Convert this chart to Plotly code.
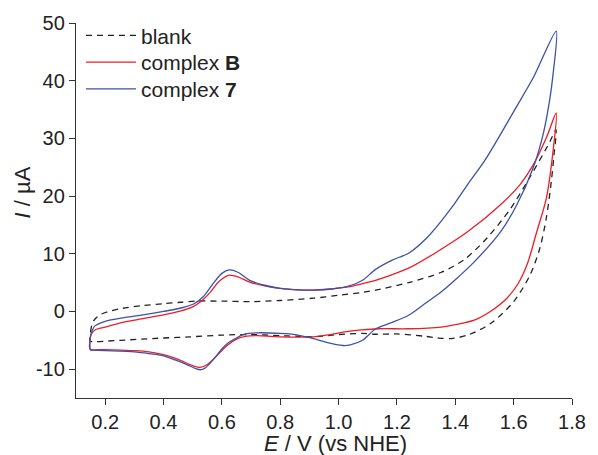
import plotly.graph_objects as go

# ---- data (E in V vs NHE, I in uA) ----
blank_E = [0.148, 0.150, 0.155, 0.165, 0.185, 0.211, 0.260, 0.324, 0.400, 0.460, 0.515, 0.600, 0.695, 0.800,
           0.914, 1.000, 1.082, 1.127, 1.240, 1.352, 1.431, 1.510, 1.589, 1.656, 1.723, 1.745,
           1.738, 1.729, 1.712, 1.690, 1.656, 1.600, 1.521, 1.442, 1.386, 1.340, 1.296, 1.200, 1.127,
           1.082, 1.000, 0.914, 0.858, 0.800, 0.700, 0.600, 0.490, 0.400, 0.324, 0.250, 0.150, 0.148]
blank_I = [-5.1, -3.5, -2.2, -1.3, -0.5, 0.0, 0.55, 1.0, 1.35, 1.6, 1.8, 1.8, 1.7, 1.9,
           2.3, 2.8, 3.3, 3.7, 5.0, 6.8, 9.0, 12.8, 17.8, 23.3, 29.3, 31.5,
           27.0, 22.5, 16.2, 11.0, 6.3, 1.7, -2.1, -4.1, -4.7, -4.6, -4.3, -3.9, -3.95,
           -3.8, -4.0, -4.4, -4.3, -4.2, -4.0, -4.1, -4.4, -4.6, -4.8, -5.0, -5.2, -5.1]

b_E = [0.148, 0.148, 0.152, 0.165, 0.200, 0.260, 0.324, 0.400, 0.460, 0.500, 0.530, 0.560, 0.590, 0.625,
       0.655, 0.695, 0.750, 0.800, 0.860, 0.914, 0.970, 1.027, 1.080, 1.127, 1.184, 1.240, 1.330,
       1.442, 1.555, 1.622, 1.667, 1.712, 1.746,
       1.735, 1.712, 1.678, 1.648, 1.615, 1.577, 1.520, 1.465, 1.400, 1.352, 1.240, 1.139, 1.080,
       1.027, 0.970, 0.914, 0.860, 0.801, 0.720, 0.680, 0.650, 0.620, 0.580, 0.550, 0.525, 0.500,
       0.450, 0.400, 0.350, 0.300, 0.200, 0.148]
b_I = [-6.5, -5.0, -4.0, -3.2, -2.7, -1.9, -1.3, -0.6, 0.1, 0.8, 1.8, 3.3, 5.2, 6.3,
       6.0, 5.1, 4.4, 4.0, 3.75, 3.7, 3.9, 4.2, 4.8, 5.4, 6.4, 7.5, 10.1,
       13.8, 18.5, 22.0, 25.4, 30.1, 34.4,
       27.8, 19.6, 13.6, 8.4, 4.8, 2.3, 0.0, -1.5, -2.3, -2.7, -3.0, -3.0, -3.2,
       -3.5, -4.0, -4.4, -4.45, -4.4, -4.2, -4.3, -4.8, -5.8, -7.8, -9.2, -9.7, -9.4,
       -8.3, -7.5, -7.0, -6.8, -6.6, -6.5]

c7_E = [0.148, 0.148, 0.152, 0.165, 0.200, 0.260, 0.324, 0.400, 0.460, 0.503, 0.535, 0.571, 0.600, 0.625,
        0.655, 0.695, 0.750, 0.800, 0.860, 0.914, 0.970, 1.027, 1.082, 1.127, 1.184, 1.240, 1.307,
        1.386, 1.442, 1.499, 1.555, 1.611, 1.667, 1.746,
        1.735, 1.723, 1.701, 1.667, 1.611, 1.555, 1.465, 1.400, 1.352, 1.300, 1.240, 1.184, 1.127,
        1.082, 1.040, 1.015, 0.970, 0.914, 0.850, 0.800, 0.720, 0.680, 0.650, 0.620, 0.600, 0.570,
        0.545, 0.529, 0.510, 0.480, 0.440, 0.400, 0.350, 0.300, 0.200, 0.148]
c7_I = [-6.6, -5.0, -3.8, -2.5, -1.7, -1.1, -0.65, 0.0, 0.6, 1.3, 2.5, 4.9, 6.6, 7.2,
        6.8, 5.4, 4.5, 4.0, 3.75, 3.7, 3.85, 4.3, 5.4, 7.3, 8.9, 10.1, 13.0,
        17.9, 22.0, 26.0, 30.7, 35.6, 40.5, 48.6,
        41.1, 36.5, 30.7, 24.9, 18.5, 13.8, 8.6, 5.5, 3.4, 1.5, -0.65, -1.9, -3.0,
        -5.0, -5.8, -5.9, -5.5, -4.7, -4.0, -3.8, -3.7, -3.9, -4.6, -5.5, -6.5, -8.4,
        -9.7, -10.1, -9.9, -9.2, -8.4, -7.7, -7.3, -7.0, -6.8, -6.7]

series_names = ["blank", "complex <b>B</b>", "complex <b>7</b>"]
x_ticks = [0.2, 0.4, 0.6, 0.8, 1.0, 1.2, 1.4, 1.6, 1.8]
x_tick_text = ["0.2", "0.4", "0.6", "0.8", "1.0", "1.2", "1.4", "1.6", "1.8"]
y_ticks = [-10, 0, 10, 20, 30, 40, 50]
y_tick_text = ["-10", "0", "10", "20", "30", "40", "50"]

FONT = "Liberation Sans, Arial, sans-serif"

fig = go.Figure()
fig.add_trace(go.Scatter(x=blank_E, y=blank_I, mode="lines", name=series_names[0], legend="legend",
                         line=dict(color="#222222", width=1.3, dash="6px,5px", shape="spline", smoothing=0.8)))
fig.add_trace(go.Scatter(x=b_E, y=b_I, mode="lines", name=series_names[1], legend="legend2",
                         line=dict(color="#ee1c25", width=1.3, shape="spline", smoothing=0.8)))
fig.add_trace(go.Scatter(x=c7_E, y=c7_I, mode="lines", name=series_names[2], legend="legend3",
                         line=dict(color="#3a53a4", width=1.3, shape="spline", smoothing=0.8)))

axis_common = dict(showline=True, linecolor="#333333", linewidth=1.3, showgrid=False, zeroline=False,
                   ticks="outside", ticklen=6, tickwidth=1.3, tickcolor="#333333",
                   tickfont=dict(family=FONT, size=20, color="#222222"))

fig.update_xaxes(range=[0.1, 1.8], tickvals=x_ticks, ticktext=x_tick_text, **axis_common)
fig.update_yaxes(range=[-15, 50], tickvals=y_ticks, ticktext=y_tick_text, **axis_common)

leg_common = dict(x=0.01, xanchor="left", yanchor="middle", bgcolor="rgba(0,0,0,0)",
                  font=dict(family=FONT, size=21, color="#222222"), itemwidth=50)

fig.update_layout(
    width=598, height=455,
    margin=dict(l=76, r=18, t=23, b=57),
    paper_bgcolor="white", plot_bgcolor="white",
    showlegend=True,
    legend=dict(y=0.966, **leg_common),
    legend2=dict(y=0.895, **leg_common),
    legend3=dict(y=0.8235, **leg_common),
    annotations=[
        dict(text="<i>E</i> / V (vs NHE)", xref="paper", yref="paper", x=0.524, y=-0.12,
             xanchor="center", yanchor="middle", showarrow=False,
             font=dict(family=FONT, size=22, color="#222222")),
        dict(text="<i>I</i> / µA", xref="paper", yref="paper", x=-0.107, y=0.548,
             xanchor="center", yanchor="middle", showarrow=False, textangle=-90,
             font=dict(family=FONT, size=22, color="#222222")),
    ],
)

fig.write_html("out.html")
